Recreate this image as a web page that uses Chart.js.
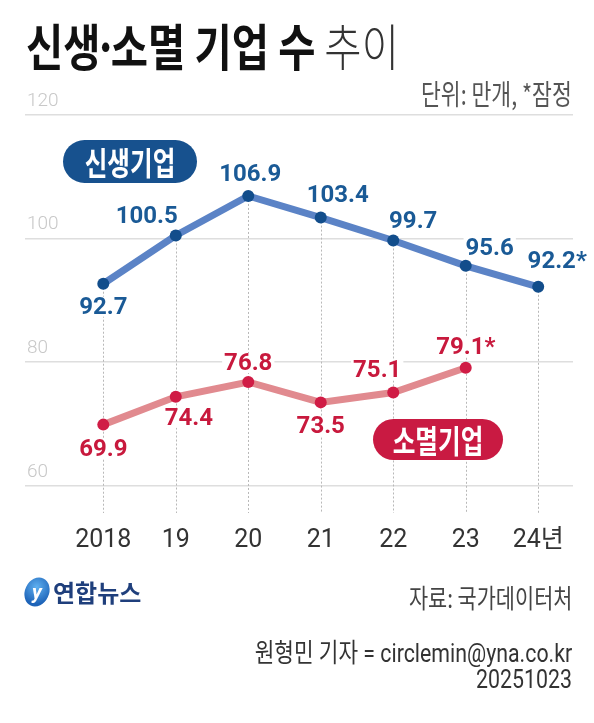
<!DOCTYPE html>
<html><head><meta charset="utf-8">
<script src="https://cdn.jsdelivr.net/npm/chart.js@4.4.1/dist/chart.umd.min.js"></script>
<style>
html,body{margin:0;padding:0;background:#fff;width:594px;height:723px;overflow:hidden;}
#wrap{position:relative;width:594px;height:723px;}
#c{position:absolute;left:0;top:0;}
.t{position:absolute;white-space:nowrap;font-family:'Noto Sans CJK KR',sans-serif;line-height:1;}
#title{left:26px;top:19px;font-size:50px;transform:scaleX(0.81);transform-origin:left top;color:#111;}
#title b{font-weight:700;}
#title i{font-style:normal;margin:0 -0.17em;}
#title span{font-weight:300;color:#333;}
#unit{right:22px;top:79px;font-size:28px;transform:scaleX(0.77);transform-origin:right top;color:#555;}
#src{right:22px;top:584px;font-size:26px;transform:scaleX(0.8);transform-origin:right top;color:#444;}
#rep{right:22px;top:640px;font-size:26px;transform:scaleX(0.82);transform-origin:right top;color:#333;font-family:Roboto,'Noto Sans CJK KR',sans-serif;}
#date{right:22px;top:666px;font-size:26px;transform:scaleX(0.82);transform-origin:right top;color:#333;font-family:Roboto,sans-serif;}
#logo{position:absolute;left:25px;top:577px;height:30px;display:flex;align-items:center;}
#logo .ic{width:24px;height:30px;border-radius:50%;background:radial-gradient(circle at 40% 35%,#5fb0f0,#1d63b8 70%);transform:rotate(25deg);display:flex;align-items:center;justify-content:center;}
#logo .ic span{color:#fff;font:italic 700 20px Roboto,sans-serif;transform:rotate(-25deg);}
#logo .lt{margin-left:4px;font:700 24px 'Noto Sans CJK KR',sans-serif;color:#1f3f7c;line-height:1;}
</style></head>
<body><div id="wrap">
<canvas id="c" width="594" height="723"></canvas>
<div class="t" id="title"><b>신생<i>·</i>소멸 기업 수</b><span> 추이</span></div>
<div class="t" id="unit">단위: 만개, *잠정</div>
<div id="logo"><div class="ic"><span>y</span></div><span class="lt">연합뉴스</span></div>
<div class="t" id="src">자료: 국가데이터처</div>
<div class="t" id="rep">원형민 기자 = circlemin@yna.co.kr</div>
<div class="t" id="date">20251023</div>
</div>
<script>
const years=[2018,2019,2020,2021,2022,2023,2024];
const tickLabels=['2018','19','20','21','22','23','24년'];
const newFirms=[92.7,100.5,106.9,103.4,99.7,95.6,92.2];
const closedFirms=[69.9,74.4,76.8,73.5,75.1,79.1,null];
const newProvisional=[false,false,false,false,false,false,true];
const closedProvisional=[false,false,false,false,false,true,false];
const yTicks=[60,80,100,120];

const dropLines={
  id:'dropLines',
  beforeDatasetsDraw(chart){
    const {ctx,chartArea,scales:{x,y}}=chart;
    ctx.save();
    ctx.strokeStyle='#b8b8b8';ctx.lineWidth=1;ctx.setLineDash([2,2]);
    years.forEach((yr,i)=>{
      const px=Math.round(x.getPixelForValue(yr))+0.5;
      ctx.beginPath();ctx.moveTo(px,y.getPixelForValue(newFirms[i]));ctx.lineTo(px,chartArea.bottom);ctx.stroke();
    });
    ctx.restore();
  }
};
const valueLabels={
  id:'valueLabels',
  afterDatasetsDraw(chart){
    const ctx=chart.ctx;
    chart.data.datasets.forEach((ds,di)=>{
      const meta=chart.getDatasetMeta(di);
      ds.data.forEach((d,i)=>{
        if(d.y==null) return;
        const el=meta.data[i];
        const off=ds.labelOffsets[i];
        const txt=d.y.toFixed(1)+(ds.provisional[i]?'*':'');
        const cx=el.x+off[0], cy=el.y+off[1];
        ctx.save();
        ctx.font="700 24px Roboto, sans-serif";
        const w=ctx.measureText(txt).width;
        ctx.fillStyle='#fff';
        ctx.fillRect(cx-w/2-2,cy-10,w+4,20);
        ctx.fillStyle=ds.valueColor;
        ctx.textAlign='center';ctx.textBaseline='middle';
        ctx.fillText(txt,cx,cy+1);
        ctx.restore();
      });
    });
  }
};
const pills={
  id:'pills',
  afterDraw(chart){
    const ctx=chart.ctx;
    chart.data.datasets.forEach(ds=>{
      const p=ds.pill;
      ctx.save();
      ctx.fillStyle=p.color;
      ctx.beginPath();ctx.roundRect(p.x,p.y,p.w,p.h,p.h/2);ctx.fill();
      ctx.translate(p.x+p.w/2,p.y+p.h/2);
      ctx.scale(0.77,1);
      ctx.fillStyle='#fff';
      ctx.font="700 32px 'Noto Sans CJK KR', sans-serif";
      ctx.textAlign='center';ctx.textBaseline='middle';
      ctx.fillText(ds.label,0,1);
      ctx.restore();
    });
  }
};

new Chart(document.getElementById('c'),{
  type:'line',
  data:{datasets:[
    {label:'신생기업',data:years.map((x,i)=>({x,y:newFirms[i]})),
     borderColor:'#5b83c6',borderWidth:7,pointRadius:6,pointHoverRadius:6,
     pointBackgroundColor:'#124d8b',pointBorderWidth:0,tension:0,
     valueColor:'#1a5a96',provisional:newProvisional,
     labelOffsets:[[0,23],[-29,-20],[2,-22],[17,-23],[20,-19],[24,-18],[19,-26]],
     pill:{x:63,y:140,w:134,h:43,color:'#17518e'}},
    {label:'소멸기업',data:years.map((x,i)=>({x,y:closedFirms[i]})),
     borderColor:'#e18a8f',borderWidth:7,pointRadius:6,pointHoverRadius:6,
     pointBackgroundColor:'#d01c45',pointBorderWidth:0,tension:0,spanGaps:false,
     valueColor:'#c8193d',provisional:closedProvisional,
     labelOffsets:[[0,24],[13,21],[0,-19],[0,24],[-16,-22],[0,-21],[0,0]],
     pill:{x:373,y:419,w:130,h:41,color:'#c91a42'}}
  ]},
  options:{
    responsive:false,animation:false,
    layout:{padding:{left:25,right:21,top:115,bottom:170}},
    plugins:{legend:{display:false},tooltip:{enabled:false}},
    scales:{
      x:{type:'linear',min:2016.92,max:2024.48,
        afterBuildTicks:s=>{s.ticks=years.map(v=>({value:v}));},
        afterFit:s=>{s.height=40;},
        ticks:{callback:v=>tickLabels[years.indexOf(v)],color:'#333',padding:13,autoSkip:false,maxRotation:0,
          font:{family:"Roboto, 'Noto Sans CJK KR', sans-serif",size:25}},
        grid:{display:false,drawTicks:false},border:{display:false}},
      y:{min:55.6,max:120,
        afterBuildTicks:s=>{s.ticks=yTicks.map(v=>({value:v}));},
        afterFit:s=>{s.width=0;},
        ticks:{mirror:true,padding:2,labelOffset:-14,color:'#c8c8c8',
          font:{family:'Roboto, sans-serif',size:19,weight:'300'}},
        grid:{color:'#dedede',lineWidth:1.5,drawTicks:false},border:{display:false}}
    }
  },
  plugins:[dropLines,valueLabels,pills]
});
</script>
</body></html>
